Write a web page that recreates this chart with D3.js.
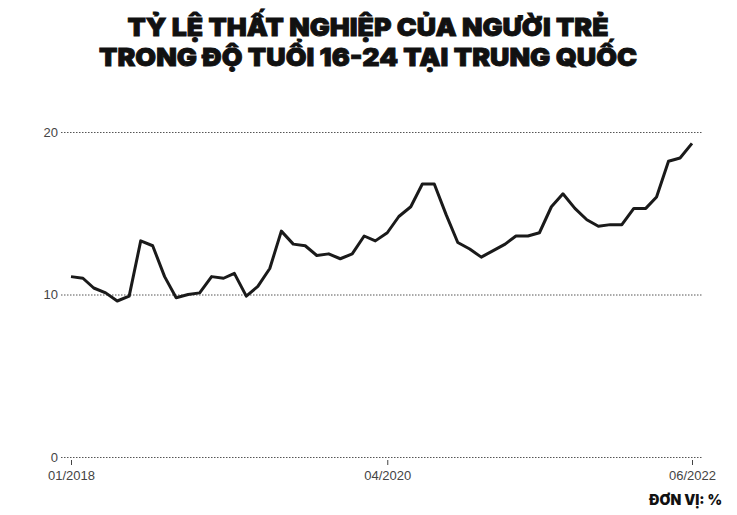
<!DOCTYPE html>
<html>
<head>
<meta charset="utf-8">
<script src="https://cdn.jsdelivr.net/npm/d3@7"></script>
<style>
  html, body { margin: 0; padding: 0; background: #fff; }
  svg { display: block; }
</style>
</head>
<body>
<svg id="chart" width="737" height="515"></svg>
<script>
const titleLines = ["TỶ LỆ THẤT NGHIỆP CỦA NGƯỜI TRẺ", "TRONG ĐỘ TUỔI 16-24 TẠI TRUNG QUỐC"];
const unitLabel = "ĐƠN VỊ: %";
const startMonth = "2018-01";
const rates = [
  11.1, 11.0, 10.4, 10.1, 9.6, 9.9, 13.3, 13.0, 11.1, 9.8, 10.0, 10.1,
  11.1, 11.0, 11.3, 9.9, 10.5, 11.6, 13.9, 13.1, 13.0, 12.4, 12.5, 12.2,
  12.5, 13.6, 13.3, 13.8, 14.8, 15.4, 16.8, 16.8, 14.9, 13.2, 12.8, 12.3,
  12.7, 13.1, 13.6, 13.6, 13.8, 15.4, 16.2, 15.3, 14.6, 14.2, 14.3, 14.3,
  15.3, 15.3, 16.0, 18.2, 18.4, 19.3
];
const yTicks = [0, 10, 20];
const xTickLabels = ["01/2018", "04/2020", "06/2022"];

const parse = d3.timeParse("%Y-%m");
const fmt = d3.timeFormat("%m/%Y");
const t0 = parse(startMonth);
const data = rates.map((v, i) => ({ date: d3.timeMonth.offset(t0, i), value: v }));
const xTickDates = xTickLabels.map(s => d3.timeParse("%m/%Y")(s));

const svg = d3.select("#chart");

const x = d3.scaleTime()
  .domain(d3.extent(data, d => d.date))
  .range([71, 692]);
const y = d3.scaleLinear().domain([0, 20]).range([457, 132]);

// title
const title = svg.append("g");
const titleY = [36, 66];
const titleW = [481, 538];
titleLines.forEach((t, i) => {
  title.append("text")
    .attr("x", 368).attr("y", titleY[i])
    .attr("text-anchor", "middle")
    .attr("font-family", "Inter, 'DejaVu Sans', sans-serif")
    .attr("font-weight", 900)
    .attr("font-size", 25)
    .attr("textLength", titleW[i])
    .attr("lengthAdjust", "spacingAndGlyphs")
    .attr("fill", "#111")
    .attr("stroke", "#111")
    .attr("stroke-width", 0.9)
    .text(t);
});

// y grid + labels
const yAxis = d3.axisLeft(y).tickValues(yTicks).tickSize(-(702 - 61)).tickPadding(3);
const gy = svg.append("g").attr("transform", "translate(61,0)").call(yAxis);
gy.select(".domain").remove();
gy.selectAll(".tick line")
  .attr("stroke", "#555")
  .attr("stroke-width", 1)
  .attr("stroke-dasharray", "1.5,1.5");
gy.selectAll(".tick text")
  .attr("font-family", "'Liberation Sans', Arial, sans-serif")
  .attr("font-size", 13)
  .attr("fill", "#444");

// x axis
const xAxis = d3.axisBottom(x).tickValues(xTickDates).tickFormat(fmt).tickSize(5).tickPadding(6);
const gx = svg.append("g").attr("transform", "translate(0,460)").call(xAxis);
gx.select(".domain").remove();
gx.selectAll(".tick line").attr("stroke", "#444");
gx.selectAll(".tick text")
  .attr("font-family", "'Liberation Sans', Arial, sans-serif")
  .attr("font-size", 13)
  .attr("fill", "#444");

// line
const line = d3.line().x(d => x(d.date)).y(d => y(d.value));
svg.append("path")
  .datum(data)
  .attr("d", line)
  .attr("fill", "none")
  .attr("stroke", "#1a1a1a")
  .attr("stroke-width", 3)
  .attr("stroke-linejoin", "round");

// unit
svg.append("text")
  .attr("x", 722).attr("y", 505)
  .attr("text-anchor", "end")
  .attr("font-family", "Inter, 'DejaVu Sans', sans-serif")
  .attr("font-weight", 900)
  .attr("font-size", 14)
  .attr("fill", "#111")
  .text(unitLabel);
</script>
</body>
</html>
